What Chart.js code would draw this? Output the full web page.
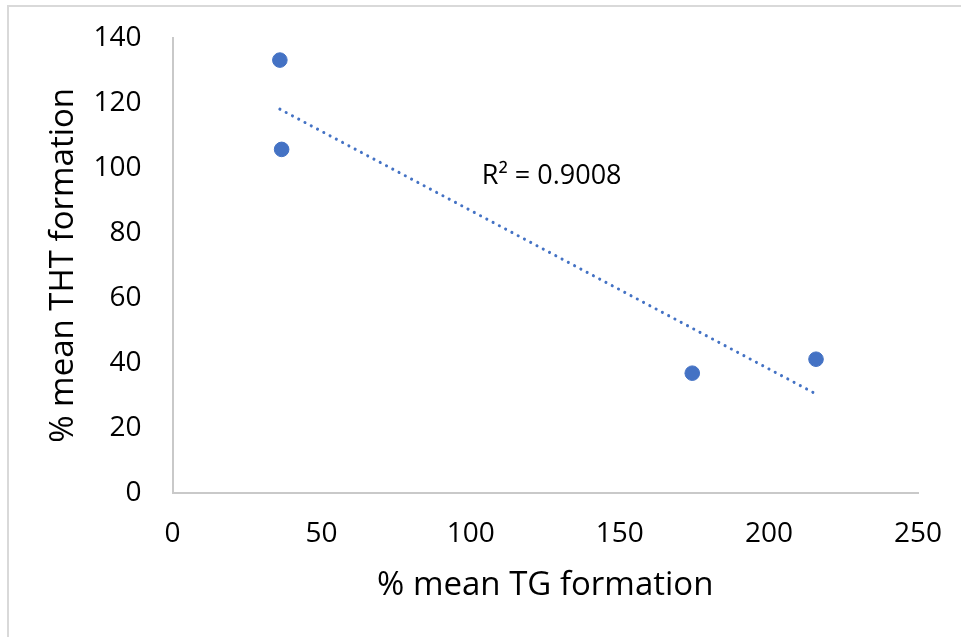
<!DOCTYPE html>
<html>
<head>
<meta charset="utf-8">
<script src="https://cdn.jsdelivr.net/npm/chart.js@4"></script>
<style>
  html, body { margin: 0; padding: 0; background: #fff; }
  #caja { position: relative; width: 961px; height: 637px; }
  #marco {
    position: absolute; left: 7px; top: 5px; right: -10px; bottom: -10px;
    border-left: 2px solid #d9d9d9; border-top: 2px solid #d9d9d9;
    pointer-events: none;
  }
</style>
</head>
<body>
<div id="caja">
  <canvas id="myChart"></canvas>
  <div id="marco"></div>
</div>
<script>
const ctx = document.getElementById("myChart");

// datos
const tgFormacion = [36.0, 36.6, 174.3, 215.8];
const thtFormacion = [133.2, 105.7, 36.8, 41.1];

// linea de tendencia (extremos)
const tendenciaX = [36.0, 215.8];
const tendenciaY = [118.1, 30.4];

const textoR2 = "R² = 0.9008";
const posR2 = [103.7, 97.3];

const azul = "#4472C4";
const fuente = "'Open Sans', sans-serif";

const puntos = tgFormacion.map((x, i) => ({ x: x, y: thtFormacion[i] }));
const tendencia = tendenciaX.map((x, i) => ({ x: x, y: tendenciaY[i] }));

// escribe el R2 sobre el grafico
const etiquetaR2 = {
  id: "etiquetaR2",
  afterDatasetsDraw(chart) {
    const c = chart.ctx;
    const px = chart.scales.x.getPixelForValue(posR2[0]);
    const py = chart.scales.y.getPixelForValue(posR2[1]);
    c.save();
    c.font = "27px " + fuente;
    c.fillStyle = "#000";
    c.textAlign = "left";
    c.textBaseline = "middle";
    c.fillText(textoR2, px, py);
    c.restore();
  },
};

new Chart(ctx, {
  type: "scatter",
  data: {
    datasets: [
      {
        label: "THT",
        data: puntos,
        backgroundColor: azul,
        borderColor: azul,
        pointRadius: 7.3,
        pointHoverRadius: 7.3,
      },
      {
        label: "Tendencia",
        type: "line",
        data: tendencia,
        borderColor: azul,
        borderWidth: 3,
        borderDash: [0.1, 7],
        borderCapStyle: "round",
        pointRadius: 0,
        fill: false,
      },
    ],
  },
  options: {
    responsive: true,
    maintainAspectRatio: false,
    animation: false,
    layout: {
      autoPadding: false,
      padding: { left: 0, top: 38, right: 43, bottom: 0 },
    },
    plugins: {
      legend: { display: false },
      tooltip: { enabled: false },
    },
    scales: {
      x: {
        type: "linear",
        min: 0,
        max: 250,
        ticks: {
          stepSize: 50,
          padding: 0,
          color: "#000",
          font: { family: fuente, size: 28 },
        },
        // las marcas no se dibujan, solo separan el texto del eje
        grid: { display: false, drawTicks: true, tickLength: 25 },
        border: { display: true, color: "#c9c9c9", width: 2 },
        title: {
          display: true,
          text: "% mean TG formation",
          color: "#000",
          font: { family: fuente, size: 33 },
          padding: { top: 0, bottom: 32 },
        },
        afterFit: (escala) => { escala.height = 144.3; },
      },
      y: {
        type: "linear",
        min: 0,
        max: 140,
        ticks: {
          stepSize: 20,
          padding: 0,
          color: "#000",
          font: { family: fuente, size: 28 },
        },
        grid: { display: false, drawTicks: true, tickLength: 31 },
        border: { display: true, color: "#c9c9c9", width: 2 },
        title: {
          display: true,
          text: "% mean THT formation",
          color: "#000",
          font: { family: fuente, size: 33 },
          padding: { top: 44, bottom: 0 },
        },
        afterFit: (escala) => { escala.width = 172.5; },
      },
    },
  },
  plugins: [etiquetaR2],
});
</script>
</body>
</html>
